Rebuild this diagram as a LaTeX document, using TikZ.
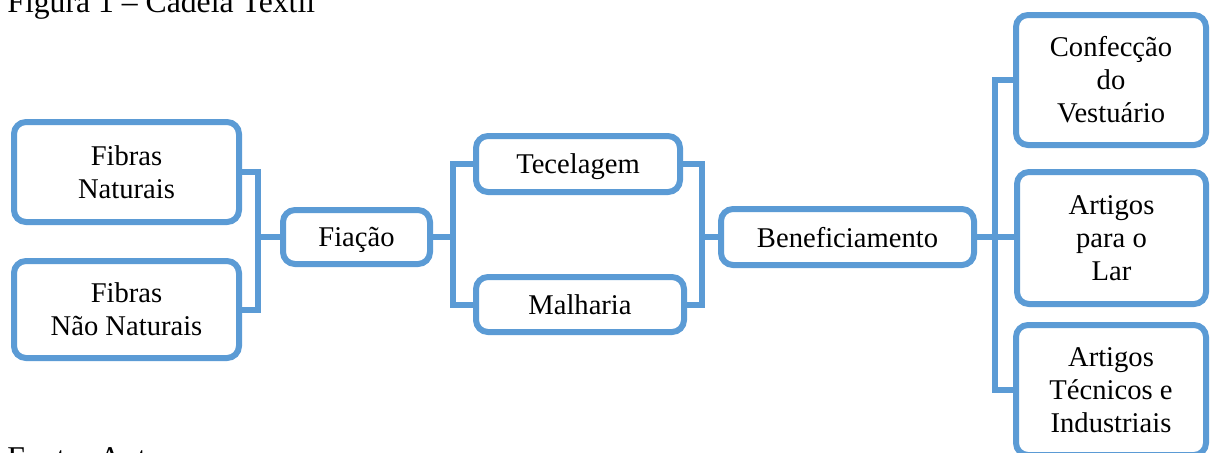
\documentclass[tikz,border=0pt]{standalone}
\usepackage{fontspec}
\setmainfont{Liberation Serif}
\definecolor{azul}{RGB}{91,155,213}

\begin{document}
\begin{tikzpicture}[x=0.5pt, y=-0.5pt,
  caixa/.style={draw=azul, line width=3pt, rounded corners=6pt, fill=white, align=center,
    inner sep=0pt, outer sep=0pt, font=\fontsize{14.3}{16.5}\selectfont},
  umalinha/.style={caixa, text depth=0pt},
  liga/.style={draw=azul, line width=3pt},
  legenda/.style={anchor=base west, inner sep=0pt, font=\fontsize{15.85}{18}\selectfont}]
\path[use as bounding box, clip] (0,0) rectangle (1214,452);
\node[legenda] (titulo) at (7,12) {Figura 1 – Cadeia Textil};
\node[legenda] (fonte) at (7,468) {Fonte: Autor};
% primeira coluna
\node[caixa, minimum width=112.5pt, minimum height=50pt] (fn) at (126.5,172) {Fibras\\Naturais};
\node[caixa, minimum width=112.5pt, minimum height=48.5pt] (fnn) at (126.5,309.5) {Fibras\\Não Naturais};
\node[umalinha, minimum width=73.5pt, minimum height=27pt] (fia) at (356.5,237) {Fiação};
\node[umalinha, minimum width=102pt, minimum height=28pt] (tec) at (578,164) {Tecelagem};
\node[umalinha, minimum width=104pt, minimum height=27.5pt] (mal) at (580,304.5) {Malharia};
\node[umalinha, minimum width=126.5pt, minimum height=28pt] (ben) at (847.5,237) {Beneficiamento};
% produtos finais
\node[caixa, minimum width=95pt, minimum height=65pt] (conf) at (1111,80) {Confecção\\do\\Vestuário};
\node[caixa, minimum width=94.5pt, minimum height=66pt] (lar) at (1111.5,238) {Artigos\\para o\\Lar};
\node[caixa, minimum width=95pt, minimum height=65pt] (art) at (1111,390) {Artigos\\Técnicos e\\Industriais};
\coordinate (j1) at (258,237);
\coordinate (j2) at (453,237);
\coordinate (j3) at (702,237);
\coordinate (j4) at (995,238);
\draw[liga] (fn.east) -| (j1) |- (fnn.east);
\draw[liga] (j1) -- (fia.west);
\draw[liga] (fia.east) -- (j2);
\draw[liga] (tec.west) -| (j2) |- (mal.west);
\draw[liga] (tec.east) -| (j3) |- (mal.east);
\draw[liga] (j3) -- (ben.west);
\draw[liga] (conf.west) -| (j4) |- (art.west);
\draw[liga] (ben.east) -- (ben.east -| lar.west);
\end{tikzpicture}
\end{document}
